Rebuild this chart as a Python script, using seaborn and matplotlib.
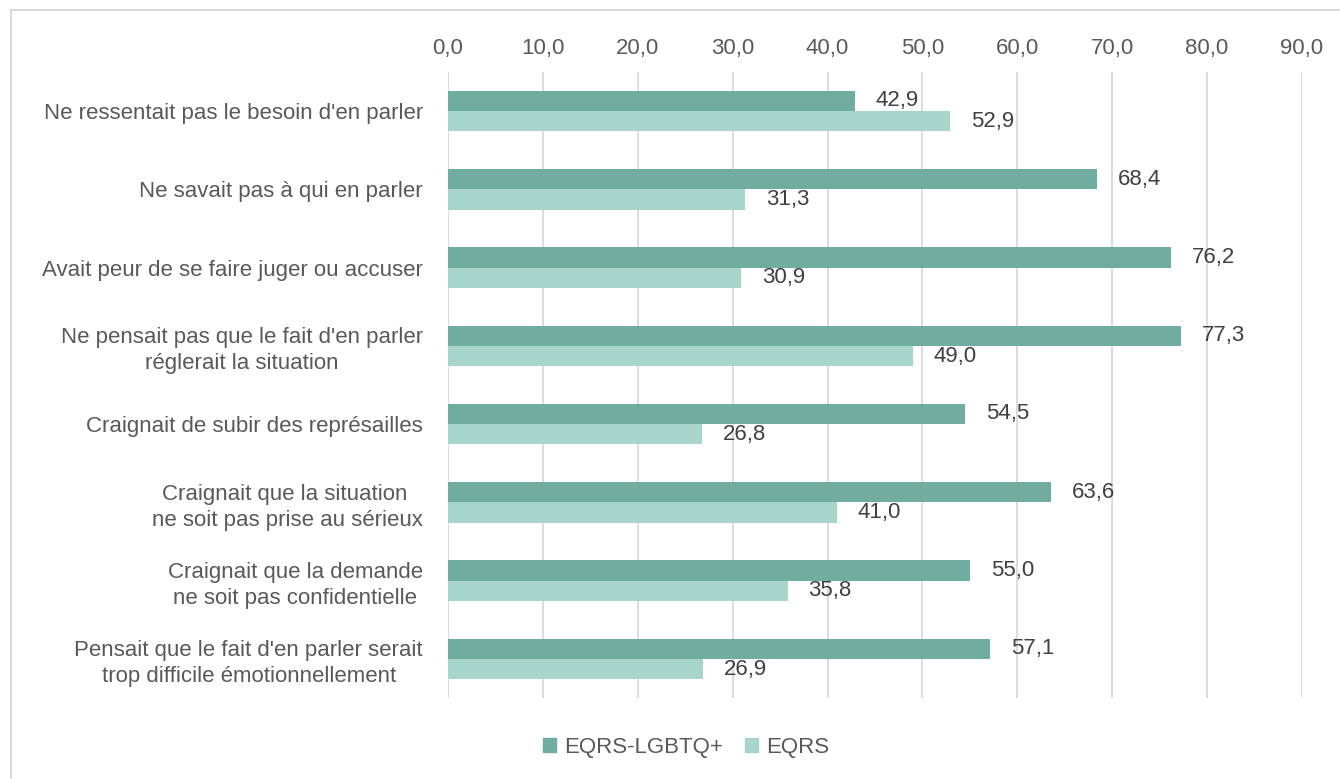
import pandas as pd
import matplotlib.pyplot as plt
import seaborn as sns
from matplotlib.patches import Rectangle

categories = [
    "Ne ressentait pas le besoin d'en parler",
    "Ne savait pas à qui en parler",
    "Avait peur de se faire juger ou accuser",
    "Ne pensait pas que le fait d'en parler\nréglerait la situation",
    "Craignait de subir des représailles",
    "Craignait que la situation \nne soit pas prise au sérieux",
    "Craignait que la demande\nne soit pas confidentielle",
    "Pensait que le fait d'en parler serait\ntrop difficile émotionnellement",
]
lgbtq = [42.9, 68.4, 76.2, 77.3, 54.5, 63.6, 55.0, 57.1]
eqrs = [52.9, 31.3, 30.9, 49.0, 26.8, 41.0, 35.8, 26.9]
series_names = ["EQRS-LGBTQ+", "EQRS"]
ticks = [0, 10, 20, 30, 40, 50, 60, 70, 80, 90]

df = pd.DataFrame({
    "cat": categories * 2,
    "value": lgbtq + eqrs,
    "serie": [series_names[0]] * len(categories) + [series_names[1]] * len(categories),
})

sns.set_style("white")
plt.rcParams["font.family"] = ["Liberation Sans", "DejaVu Sans"]
text_color = "#595959"
label_color = "#404040"
colors = {"EQRS-LGBTQ+": "#70ac9f", "EQRS": "#a8d5ca"}

fig = plt.figure(figsize=(13.4, 7.79), dpi=100)
ax = fig.add_axes([0.3343, 0.104, 0.6373, 0.8036])

sns.barplot(data=df, y="cat", x="value", hue="serie", palette=colors,
            orient="h", width=0.52, ax=ax, legend=False, saturation=1,
            linewidth=0)

ax.set_xlim(0, 90)
ax.set_xticks(ticks)
ax.set_xticklabels([f"{t:.1f}".replace(".", ",") for t in ticks])
ax.xaxis.tick_top()
ax.tick_params(axis="x", length=0, pad=9, labelsize=16, labelcolor=text_color)
ax.tick_params(axis="y", length=0, pad=18, labelsize=16, labelcolor=text_color)
for lbl in ax.get_yticklabels():
    lbl.set_multialignment("center")
    lbl.set_linespacing(1.3)
ax.grid(axis="x", color="#d9d9d9", linewidth=1.3)
ax.set_axisbelow(True)
for s in ax.spines.values():
    s.set_visible(False)
ax.set_xlabel("")
ax.set_ylabel("")

for cont in ax.containers:
    ax.bar_label(cont, labels=[f"{v:.1f}".replace(".", ",") for v in cont.datavalues],
                 padding=15, fontsize=16, color=label_color)

handles = [Rectangle((0, 0), 1, 1, color=colors[n]) for n in series_names]
fig.legend(handles, series_names, loc="center", bbox_to_anchor=(0.512, 0.041),
           ncol=2, frameon=False, fontsize=16, handlelength=0.6, handleheight=0.6,
           columnspacing=1.0, handletextpad=0.35, labelcolor=text_color)

fig.add_artist(Rectangle((0.0085, -0.1), 1.2, 1.087, transform=fig.transFigure,
                         fill=False, edgecolor="#d9d9d9", linewidth=1.5))

fig.savefig("out.png", dpi=100)
